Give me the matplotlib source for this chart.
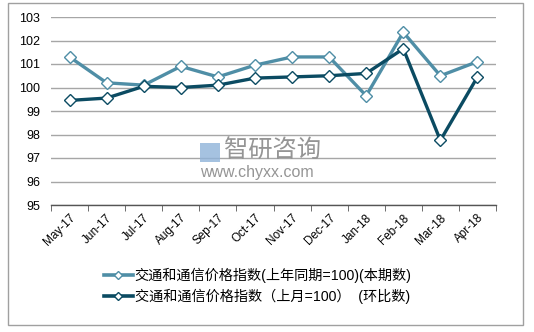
import matplotlib
matplotlib.use("Agg")
import matplotlib.pyplot as plt
from matplotlib.patches import Rectangle
import numpy as np

plt.rcParams['font.family'] = ['Liberation Sans', 'Noto Sans CJK SC', 'DejaVu Sans']

categories = ["May-17", "Jun-17", "Jul-17", "Aug-17", "Sep-17", "Oct-17",
              "Nov-17", "Dec-17", "Jan-18", "Feb-18", "Mar-18", "Apr-18"]
yoy_values = [101.3, 100.2, 100.1, 100.9, 100.45, 100.95,
              101.3, 101.3, 99.65, 102.35, 100.5, 101.1]
mom_values = [99.45, 99.55, 100.05, 100.0, 100.1, 100.4,
              100.45, 100.5, 100.6, 101.65, 97.75, 100.45]
series_names = ["交通和通信价格指数(上年同期=100)(本期数)",
                "交通和通信价格指数（上月=100）  (环比数)"]
y_ticks = [95, 96, 97, 98, 99, 100, 101, 102, 103]

W, H = 534, 332
fig = plt.figure(figsize=(W / 100, H / 100), dpi=100)
fig.patch.set_facecolor('white')

# outer border
fig.patches.append(Rectangle((8 / W, 1 - 325 / H), (523 - 8) / W, (325 - 3) / H,
                             transform=fig.transFigure, fill=False,
                             edgecolor='#a0a0a0', lw=1.0))

ax = fig.add_axes([51 / W, 1 - 205 / H, (496 - 51) / W, (205 - 17) / H])
x = np.arange(len(categories))

light = '#4f8ea6'
dark = '#0b4b62'

ax.plot(x, yoy_values, color=light, lw=2.4, marker='D', ms=6.5,
        mfc='white', mec=light, mew=1.0, zorder=3, label=series_names[0])
ax.plot(x, mom_values, color=dark, lw=2.4, marker='D', ms=6.5,
        mfc='white', mec=dark, mew=1.0, zorder=4, label=series_names[1])

ax.set_xlim(-0.5, len(categories) - 0.5)
ax.set_ylim(95, 103)
ax.set_yticks(y_ticks)
ax.set_yticklabels([str(v) for v in y_ticks], fontsize=9)
ax.tick_params(axis='y', length=0, pad=8)
ax.yaxis.grid(True, color='#a6a6a6', lw=1.0)
ax.set_axisbelow(True)

ax.set_xticks(x)
ax.set_xticklabels(categories, rotation=45, ha='right', rotation_mode='anchor', fontsize=8.5)
ax.tick_params(axis='x', which='major', length=0, pad=5)
ax.set_xticks(np.arange(-0.5, len(categories), 1.0), minor=True)
ax.tick_params(axis='x', which='minor', length=4, color='#555555', direction='out')

for s in ['top', 'right', 'left']:
    ax.spines[s].set_visible(False)
ax.spines['bottom'].set_color('#555555')
ax.spines['bottom'].set_linewidth(1.0)

# watermark
fig.patches.append(Rectangle((200 / W, 1 - 162 / H), 20 / W, 19 / H,
                             transform=fig.transFigure, facecolor='#8fb3d9',
                             edgecolor='none', alpha=0.8, zorder=5))
fig.text(224 / W, 1 - 151 / H, "智研咨询", fontsize=17.5, color='#959595',
         family=['Noto Sans CJK SC'], va='center', ha='left', zorder=6)
fig.text(200 / W, 1 - 172 / H, "www.chyxx.com", fontsize=11.5, color='#959595',
         va='center', ha='left', zorder=6)

leg = fig.legend(loc='center', bbox_to_anchor=(258 / W, 1 - 286 / H), ncol=1,
                 frameon=False, prop={'family': ['Liberation Sans', 'Noto Sans CJK SC'], 'size': 10.2},
                 handlelength=2.0, handletextpad=0.15, labelspacing=0.45)
for h in leg.legend_handles:
    h.set_markersize(4.5)
    h.set_linewidth(2.6)

fig.savefig("out.png", dpi=100, facecolor='white')
